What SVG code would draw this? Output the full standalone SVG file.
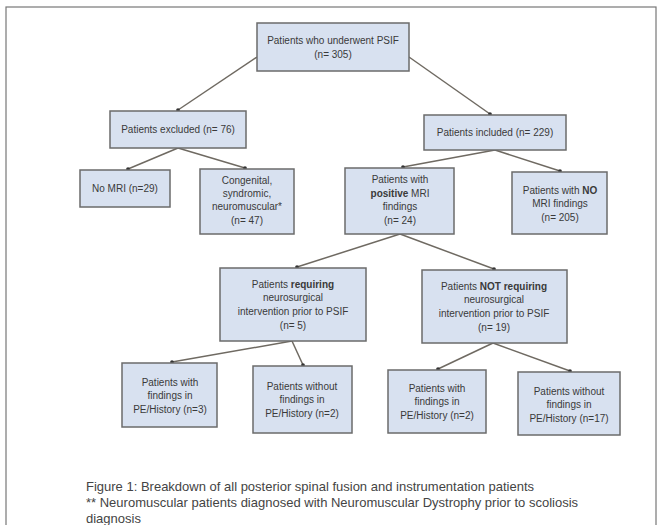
<svg xmlns="http://www.w3.org/2000/svg" width="662" height="525" viewBox="0 0 662 525">
<defs>
<style>
.box{fill:#d8e1f0;stroke:#6b6b6b;stroke-width:1.5}
.t{font-family:"Liberation Sans",Arial,sans-serif;font-size:10px;fill:#3a3a3a;text-anchor:middle}
.b{font-weight:bold}
.c{stroke:#6f6a62;stroke-width:1.5;fill:none;marker-end:url(#dot)}
.cap{font-family:"Liberation Sans",Arial,sans-serif;font-size:13px;fill:#444}
</style>
<marker id="dot" viewBox="0 0 4 4" refX="2" refY="2" markerWidth="2.5" markerHeight="2.5" markerUnits="strokeWidth">
<circle cx="2" cy="2" r="2" fill="#333"/>
</marker>
</defs>
<rect x="0" y="0" width="662" height="525" fill="#fff"/>
<rect x="6" y="7" width="650" height="530" fill="none" stroke="#777" stroke-width="1.2"/>
<g id="connectors">
<line class="c" x1="257" y1="57" x2="178" y2="110"/>
<line class="c" x1="409" y1="57" x2="490" y2="114"/>
<line class="c" x1="178" y1="148" x2="128" y2="169"/>
<line class="c" x1="178" y1="148" x2="245" y2="168"/>
<line class="c" x1="495" y1="150" x2="403" y2="167"/>
<line class="c" x1="495" y1="150" x2="560" y2="171"/>
<line class="c" x1="400" y1="234" x2="297" y2="267"/>
<line class="c" x1="400" y1="234" x2="494" y2="269"/>
<line class="c" x1="292" y1="341" x2="172" y2="362"/>
<line class="c" x1="292" y1="341" x2="303" y2="365"/>
<line class="c" x1="493" y1="343" x2="438" y2="369"/>
<line class="c" x1="493" y1="343" x2="570" y2="371"/>
</g>
<g id="root"><rect class="box" x="257" y="23" width="152" height="48"/>
<text class="t" x="333" y="44">Patients who underwent PSIF</text><text class="t" x="333" y="58">(n= 305)</text></g>
<g id="excluded"><rect class="box" x="110" y="111" width="136" height="37"/>
<text class="t" x="178" y="133">Patients excluded (n= 76)</text></g>
<g id="included"><rect class="box" x="424" y="115" width="142" height="35"/>
<text class="t" x="495" y="136">Patients included (n= 229)</text></g>
<g id="nomri"><rect class="box" x="80" y="170" width="90" height="37"/>
<text class="t" x="125" y="192">No MRI (n=29)</text></g>
<g id="congenital"><rect class="box" x="200" y="169" width="94" height="65"/>
<text class="t" x="247" y="184">Congenital,</text><text class="t" x="247" y="197">syndromic,</text><text class="t" x="247" y="210">neuromuscular*</text><text class="t" x="247" y="224">(n= 47)</text></g>
<g id="positive"><rect class="box" x="345" y="168" width="109" height="66"/>
<text class="t" x="400" y="183">Patients with</text><text class="t" x="400" y="197"><tspan class="b">positive</tspan> MRI</text><text class="t" x="400" y="210">findings</text><text class="t" x="400" y="224">(n= 24)</text></g>
<g id="nofindings"><rect class="box" x="512" y="172" width="95" height="62"/>
<text class="t" x="560" y="194">Patients with <tspan class="b">NO</tspan></text><text class="t" x="560" y="207">MRI findings</text><text class="t" x="560" y="221">(n= 205)</text></g>
<g id="requiring"><rect class="box" x="220" y="268" width="146" height="73"/>
<text class="t" x="293" y="288">Patients <tspan class="b">requiring</tspan></text><text class="t" x="293" y="301">neurosurgical</text><text class="t" x="293" y="315">intervention prior to PSIF</text><text class="t" x="293" y="329">(n= 5)</text></g>
<g id="notrequiring"><rect class="box" x="422" y="270" width="145" height="73"/>
<text class="t" x="494" y="290">Patients <tspan class="b">NOT requiring</tspan></text><text class="t" x="494" y="303">neurosurgical</text><text class="t" x="494" y="317">intervention prior to PSIF</text><text class="t" x="494" y="331">(n= 19)</text></g>
<g id="with3"><rect class="box" x="122" y="363" width="95" height="64"/>
<text class="t" x="170" y="386">Patients with</text><text class="t" x="170" y="399">findings in</text><text class="t" x="170" y="413">PE/History (n=3)</text></g>
<g id="without2"><rect class="box" x="253" y="366" width="99" height="67"/>
<text class="t" x="302" y="390">Patients without</text><text class="t" x="302" y="403">findings in</text><text class="t" x="302" y="417">PE/History (n=2)</text></g>
<g id="with2"><rect class="box" x="388" y="370" width="98" height="63"/>
<text class="t" x="437" y="392">Patients with</text><text class="t" x="437" y="405">findings in</text><text class="t" x="437" y="419">PE/History (n=2)</text></g>
<g id="without17"><rect class="box" x="518" y="372" width="102" height="63"/>
<text class="t" x="569" y="395">Patients without</text><text class="t" x="569" y="408">findings in</text><text class="t" x="569" y="422">PE/History (n=17)</text></g>
<g id="caption">
<text class="cap" x="86" y="491">Figure 1: Breakdown of all posterior spinal fusion and instrumentation patients</text>
<text class="cap" x="86" y="507">** Neuromuscular patients diagnosed with Neuromuscular Dystrophy prior to scoliosis</text>
<text class="cap" x="86" y="523">diagnosis</text>
</g>
</svg>
